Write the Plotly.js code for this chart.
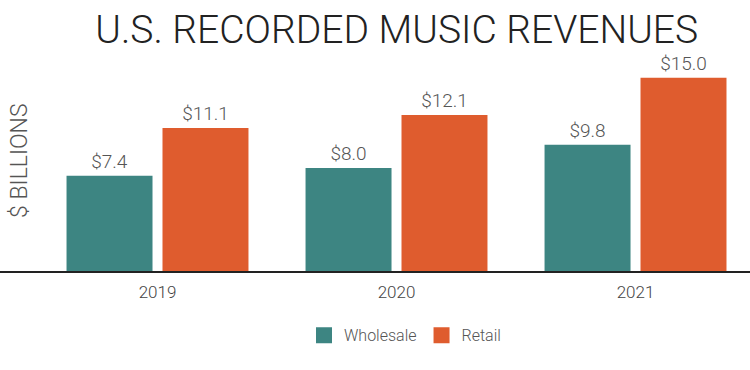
<!DOCTYPE html>
<html>
<head>
<meta charset="utf-8">
<script src="https://cdn.plot.ly/plotly-3.0.1.min.js"></script>
<style>html,body{margin:0;padding:0;background:#fff;}#chart{width:750px;height:370px;}</style>
</head>
<body>
<div id="chart"></div>
<script>
const years = ['2019', '2020', '2021'];
const wholesale = [7.4, 8.0, 9.8];
const retail = [11.1, 12.1, 15.0];
const seriesNames = ['Wholesale', 'Retail'];
const colors = ['#3d8582', '#df5c2e'];

const FONT = 'Roboto, "DejaVu Sans", sans-serif';
const labelFont = {family: FONT, size: 19, color: '#555555', weight: 300};

const traces = [
  {
    type: 'bar', name: seriesNames[0], x: years, y: wholesale,
    marker: {color: colors[0]}, showlegend: false,
    texttemplate: '$%{y:.1f}', textposition: 'outside', cliponaxis: false,
    textfont: labelFont, hoverinfo: 'skip'
  },
  {
    type: 'bar', name: seriesNames[1], x: years, y: retail,
    marker: {color: colors[1]}, showlegend: false,
    texttemplate: '$%{y:.1f}', textposition: 'outside', cliponaxis: false,
    textfont: labelFont, hoverinfo: 'skip'
  },
  // legend entries with larger square swatches
  {
    type: 'scatter', mode: 'markers', name: seriesNames[0], x: [years[0]], y: [null],
    marker: {symbol: 'square', size: 22, color: colors[0]}, hoverinfo: 'skip'
  },
  {
    type: 'scatter', mode: 'markers', name: seriesNames[1], x: [years[0]], y: [null],
    marker: {symbol: 'square', size: 22, color: colors[1]}, hoverinfo: 'skip'
  }
];

const layout = {
  width: 750, height: 370,
  margin: {l: 0, r: 0, t: 70, b: 99, pad: 0},
  paper_bgcolor: '#ffffff', plot_bgcolor: '#ffffff',
  barmode: 'group', bargap: 0.197, bargroupgap: 0.104,
  title: {
    text: 'U.S. RECORDED MUSIC REVENUES',
    font: {family: FONT, size: 39, color: '#222222', weight: 300},
    x: 0.529, xanchor: 'center', y: 0.92, yanchor: 'middle', xref: 'paper', yref: 'container'
  },
  xaxis: {
    type: 'category', range: [-0.659, 2.479],
    showline: true, linecolor: '#222222', linewidth: 1.5,
    ticks: '', showgrid: false, zeroline: false,
    tickfont: {family: FONT, size: 17, color: '#444444', weight: 300},
    ticklabelstandoff: 5, fixedrange: true
  },
  yaxis: {
    range: [0, 15.6], visible: false, showgrid: false, zeroline: false, fixedrange: true
  },
  showlegend: true,
  legend: {
    orientation: 'h', x: 0.54, xanchor: 'center', y: -0.235, yanchor: 'top',
    font: {family: FONT, size: 16, color: '#555555', weight: 300},
    itemwidth: 30, traceorder: 'normal', itemsizing: 'trace'
  },
  annotations: [{
    text: '$ BILLIONS', textangle: -90, xref: 'paper', yref: 'paper',
    x: 0, xanchor: 'left', xshift: 4, y: 0.55, yanchor: 'middle', showarrow: false,
    font: {family: FONT, size: 23, color: '#555555', weight: 300}
  }]
};

Plotly.newPlot('chart', traces, layout, {displayModeBar: false, staticPlot: true});
</script>
</body>
</html>
